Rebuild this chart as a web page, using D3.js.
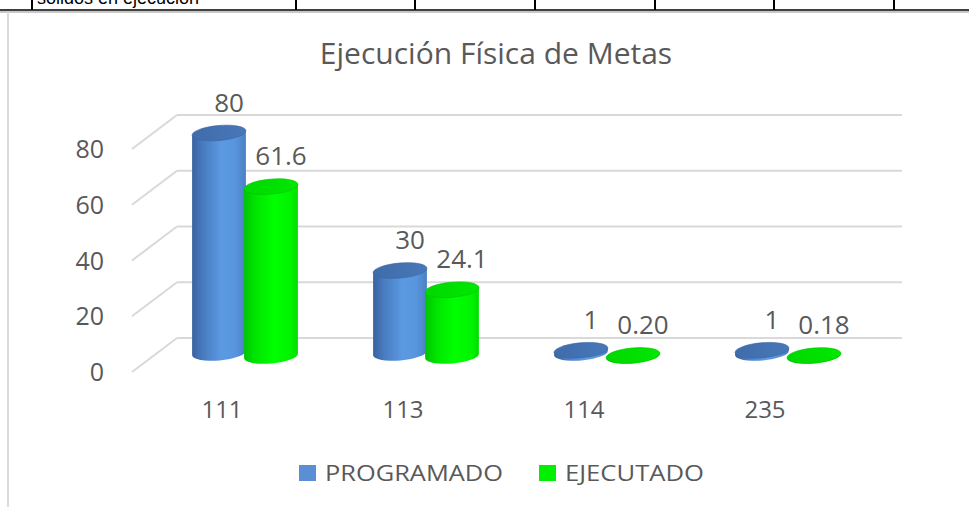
<!DOCTYPE html>
<html>
<head>
<meta charset="utf-8">
<script src="https://cdn.jsdelivr.net/npm/d3@7"></script>
<style>
  body { margin: 0; background: #fff; }
  svg text { font-family: 'Open Sans', sans-serif; fill: #595959; }
</style>
</head>
<body>
<div id="chart"></div>
<script>
// chart values
const categories = ['111', '113', '114', '235']
const programado = [80, 30, 1, 1]
const ejecutado = [61.6, 24.1, 0.20, 0.18]
const labelsProgramado = ['80', '30', '1', '1']
const labelsEjecutado = ['61.6', '24.1', '0.20', '0.18']
const yTicks = [0, 20, 40, 60, 80]
const seriesNames = ['PROGRAMADO', 'EJECUTADO']
const title = 'Ejecución Física de Metas'
const tableText = 'sólidos en ejecución'

const width = 969
const height = 507

const svg = d3.select('#chart')
  .append('svg')
  .attr('width', width)
  .attr('height', height)

const defs = svg.append('defs')

function gradient(id, stops) {
  const g = defs.append('linearGradient')
    .attr('id', id)
    .attr('x1', '0%').attr('x2', '100%')
    .attr('y1', '0%').attr('y2', '0%')
  stops.forEach(s => {
    g.append('stop').attr('offset', s[0]).attr('stop-color', s[1])
  })
}
gradient('blueBody', [['0%', '#3a62a0'], ['18%', '#4779bd'], ['55%', '#5b9ae2'], ['80%', '#5895de'], ['100%', '#4b80c2']])
gradient('blueTop', [['0%', '#3f6cab'], ['100%', '#4878b8']])
gradient('greenBody', [['0%', '#00c400'], ['20%', '#00e400'], ['55%', '#00ff00'], ['85%', '#00f400'], ['100%', '#00de00']])
gradient('greenTop', [['0%', '#00d800'], ['100%', '#00e800']])

// table fragment above the chart (cut off at the top, as in the source)
const table = svg.append('g')
table.append('text')
  .attr('x', 37).attr('y', 4)
  .style('font-family', 'Liberation Sans, Arial, sans-serif')
  .style('font-size', '18px')
  .style('fill', '#000')
  .text(tableText)
table.append('line')
  .attr('x1', 0).attr('x2', width).attr('y1', 12).attr('y2', 12)
  .attr('stroke', '#c8c8c8').attr('stroke-width', 2)
table.append('line')
  .attr('x1', 0).attr('x2', width).attr('y1', 10).attr('y2', 10)
  .attr('stroke', '#000').attr('stroke-width', 1.6)
table.selectAll('.col')
  .data([32, 296, 415, 535, 655, 774, 894])
  .enter()
  .append('line')
  .attr('x1', d => d).attr('x2', d => d)
  .attr('y1', 0).attr('y2', 10)
  .attr('stroke', '#000').attr('stroke-width', 2)

// chart frame left border
svg.append('line')
  .attr('x1', 8).attr('x2', 8).attr('y1', 12).attr('y2', height)
  .attr('stroke', '#d9d9d9').attr('stroke-width', 2)

// title
svg.append('text')
  .attr('x', 496).attr('y', 64)
  .attr('text-anchor', 'middle')
  .style('font-size', '30px')
  .text(title)

// scales
const x = d3.scalePoint().domain(categories).range([245, 788])
const yWall = d3.scaleLinear().domain([0, 80]).range([338, 115])
const hBar = d3.scaleLinear().domain([0, 80]).range([0, 220])

const depthX = -45
const depthY = 34
const wallLeft = 177
const wallRight = 902

// back wall grid
const grid = svg.append('g')
grid.selectAll('.hgrid')
  .data(yTicks)
  .enter()
  .append('line')
  .attr('x1', wallLeft).attr('x2', wallRight)
  .attr('y1', d => yWall(d)).attr('y2', d => yWall(d))
  .attr('stroke', '#d9d9d9').attr('stroke-width', 2)
grid.selectAll('.dgrid')
  .data(yTicks)
  .enter()
  .append('line')
  .attr('x1', wallLeft + depthX).attr('x2', wallLeft)
  .attr('y1', d => yWall(d) + depthY).attr('y2', d => yWall(d))
  .attr('stroke', '#d9d9d9').attr('stroke-width', 2)

// y labels
svg.selectAll('.ylab')
  .data(yTicks)
  .enter()
  .append('text')
  .attr('x', 104)
  .attr('y', d => yWall(d) + depthY)
  .attr('dy', '0.36em')
  .attr('text-anchor', 'end')
  .style('font-size', '25px')
  .text(d => d)

// cylinders
const rx = 27
const ry = 7.5
const tilt = -5
const tr = tilt * Math.PI / 180

function ends(cx, cy) {
  return [
    [cx - rx * Math.cos(tr), cy - rx * Math.sin(tr)],
    [cx + rx * Math.cos(tr), cy + rx * Math.sin(tr)]
  ]
}

function bodyPath(cx, yTop, yBot) {
  const t = ends(cx, yTop)
  const b = ends(cx, yBot)
  return `M${t[0][0]},${t[0][1]} L${b[0][0]},${b[0][1]} ` +
    `A${rx},${ry} ${tilt} 0 0 ${b[1][0]},${b[1][1]} ` +
    `L${t[1][0]},${t[1][1]} Z`
}

const series = [
  { name: seriesNames[0], values: programado, labels: labelsProgramado, offset: -26, base: 353, body: 'url(#blueBody)', top: 'url(#blueTop)', edge: '#3a64a2' },
  { name: seriesNames[1], values: ejecutado, labels: labelsEjecutado, offset: 26, base: 356, body: 'url(#greenBody)', top: 'url(#greenTop)', edge: '#00c000' }
]

const bars = svg.append('g')
categories.forEach((c, i) => {
  series.forEach(s => {
    const cx = x(c) + s.offset
    const yBot = s.base
    const yTop = s.base - hBar(s.values[i])
    const g = bars.append('g')
    g.append('path')
      .attr('d', bodyPath(cx, yTop, yBot))
      .attr('fill', s.body)
    g.append('ellipse')
      .attr('cx', cx).attr('cy', yTop)
      .attr('rx', rx).attr('ry', ry)
      .attr('transform', `rotate(${tilt} ${cx} ${yTop})`)
      .attr('fill', s.top)
      .attr('stroke', s.edge).attr('stroke-width', 0.6)
  })
})

// data labels
series.forEach(s => {
  svg.selectAll(`.lab-${s.offset}`)
    .data(categories)
    .enter()
    .append('text')
    .attr('x', (d, i) => x(d) + s.offset + 10)
    .attr('y', (d, i) => s.base - hBar(s.values[i]) - ry - 14)
    .attr('text-anchor', 'middle')
    .style('font-size', '26px')
    .text((d, i) => s.labels[i])
})

// x labels
svg.selectAll('.xlab')
  .data(categories)
  .enter()
  .append('text')
  .attr('x', d => x(d) - 23)
  .attr('y', 418)
  .attr('text-anchor', 'middle')
  .style('font-size', '24px')
  .text(d => d)

// legend
const legendItems = [
  { name: seriesNames[0], color: '#5a8fd6', x: 299, textLen: 178 },
  { name: seriesNames[1], color: '#00f000', x: 539, textLen: 139 }
]
const legend = svg.append('g')
legendItems.forEach(l => {
  legend.append('rect')
    .attr('x', l.x).attr('y', 465)
    .attr('width', 17).attr('height', 16)
    .attr('fill', l.color)
  legend.append('text')
    .attr('x', l.x + 26).attr('y', 481)
    .attr('textLength', l.textLen)
    .attr('lengthAdjust', 'spacingAndGlyphs')
    .style('font-size', '22px')
    .text(l.name)
})
</script>
</body>
</html>
